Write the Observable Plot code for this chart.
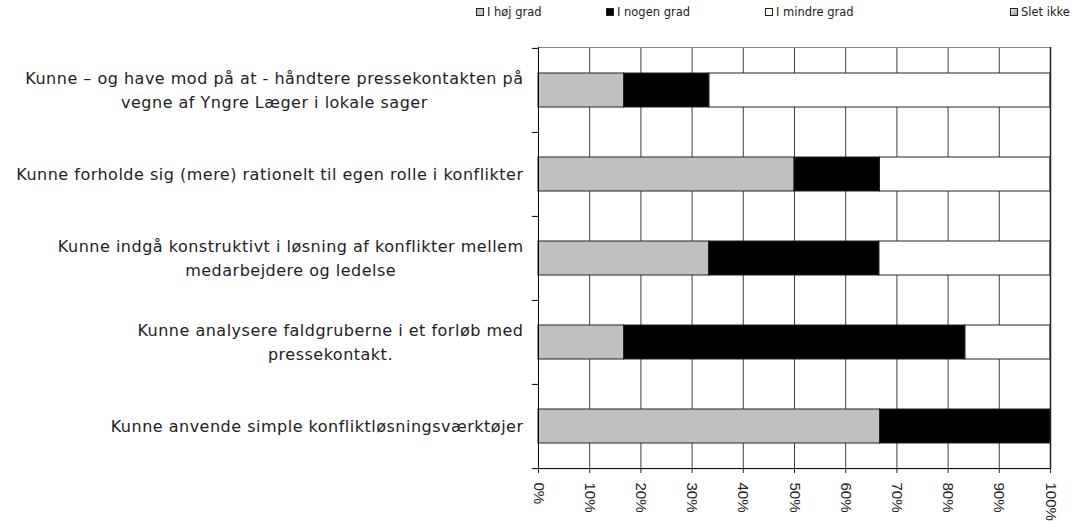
<!DOCTYPE html>
<html><head><meta charset="utf-8">
<script src="https://cdn.jsdelivr.net/npm/d3@7"></script>
<script src="https://cdn.jsdelivr.net/npm/@observablehq/plot@0.6"></script>
<style>
body{margin:0;background:#fff;}
#legend{position:relative;height:25px;width:1073px;font-family:"DejaVu Sans",sans-serif;font-size:11.5px;color:#222;}
.item{position:absolute;top:5px;display:flex;align-items:center;white-space:nowrap;line-height:14px;}
.sw{width:6px;height:6px;border:1px solid #222;margin-right:3px;}
</style></head><body>
<div id="legend"></div><div id="chart"></div>
<script>
const categories = [
  "Kunne – og have mod på at - håndtere pressekontakten på\nvegne af Yngre Læger i lokale sager",
  "Kunne forholde sig (mere) rationelt til egen rolle i konflikter",
  "Kunne indgå konstruktivt i løsning af konflikter mellem\nmedarbejdere og ledelse",
  "Kunne analysere faldgruberne i et forløb med\npressekontakt.",
  "Kunne anvende simple konfliktløsningsværktøjer"
];
const seriesNames = ["I høj grad", "I nogen grad", "I mindre grad", "Slet ikke"];
const seriesColors = ["#c0c0c0", "#000000", "#ffffff", "#d4d4d4"];
const hojGrad   = [16.7, 50.0, 33.3, 16.7, 66.7];
const nogenGrad = [16.7, 16.7, 33.3, 66.7, 33.3];
const mindreGrad= [66.6, 33.3, 33.4, 16.6, 0];
const sletIkke  = [0, 0, 0, 0, 0];
const xTicks = [0, 10, 20, 30, 40, 50, 60, 70, 80, 90, 100];
const legendLeft = [476, 606, 765, 1010];

const seriesValues = [hojGrad, nogenGrad, mindreGrad, sletIkke];
const rows = [];
seriesNames.forEach((s, si) => categories.forEach((c, ci) => {
  if (seriesValues[si][ci] > 0) rows.push({series: s, category: c, value: seriesValues[si][ci]});
}));

// legend
const leg = document.getElementById("legend");
seriesNames.forEach((s, i) => {
  const it = document.createElement("div");
  it.className = "item";
  it.style.left = legendLeft[i] + "px";
  const sw = document.createElement("span");
  sw.className = "sw";
  sw.style.background = i === 3 ? "linear-gradient(135deg,#eee,#999)" : seriesColors[i];
  it.appendChild(sw);
  it.appendChild(document.createTextNode(s));
  leg.appendChild(it);
});

const W = 1073, H = 498, mT = 22, mB = 55, mL = 538, mR = 23;
const step = (H - mT - mB) / categories.length;
const labelFont = 16, labelFamily = "DejaVu Sans", labelSpacing = 0.5;
const ctx = document.createElement("canvas").getContext("2d");
ctx.font = `${labelFont}px "${labelFamily}"`;

const labelMarks = categories.map(c => {
  const w = d3.max(c.split("\n"), l => ctx.measureText(l).width + labelSpacing * l.length);
  return Plot.text([c], {
    x: 0, y: d => d, text: d => d, textAnchor: "middle",
    dx: -(15 + w / 2), dy: -2, lineHeight: 1.5,
    fontSize: labelFont, fontFamily: labelFamily, fill: "#222",
    style: {letterSpacing: labelSpacing + "px"}
  });
});
const last = categories[categories.length - 1];

const chart = Plot.plot({
  width: W, height: H,
  marginTop: mT, marginBottom: mB, marginLeft: mL, marginRight: mR,
  style: {fontFamily: "Liberation Sans", fontSize: "15px", color: "#222", background: "#fff"},
  x: {domain: [0, 100]},
  y: {domain: categories, paddingInner: 0.6, paddingOuter: 0.3, axis: null},
  color: {domain: seriesNames, range: seriesColors},
  marks: [
    Plot.ruleX(xTicks.slice(1, -1), {stroke: "#444", strokeWidth: 1}),
    Plot.frame({stroke: "#888"}),
    Plot.barX(rows, Plot.stackX({x: "value", y: "category", fill: "series", order: seriesNames, stroke: "#222", strokeWidth: 1})),
    Plot.ruleX([100], {stroke: "#222", strokeWidth: 1.5}),
    Plot.ruleX([0], {stroke: "#000", strokeWidth: 1}),
    Plot.ruleY([last], {y: d => d, x1: 0, x2: 100, dy: step / 2, stroke: "#000"}),
    Plot.ruleY(categories, {y: d => d, x1: -1.2, x2: 0, dy: -step / 2, stroke: "#000"}),
    Plot.ruleY([last], {y: d => d, x1: -1.2, x2: 0, dy: step / 2, stroke: "#000"}),
    Plot.axisX({ticks: xTicks, tickFormat: d => d + "%", tickRotate: 90, tickSize: 5, tickPadding: 9, fontSize: 15, fontFamily: "Liberation Sans", label: null}),
    ...labelMarks
  ]
});
chart.querySelectorAll("text").forEach(t => {
  if (t.closest("g") && t.closest("g").getAttribute("font-family") === labelFamily) t.style.letterSpacing = labelSpacing + "px";
});
document.getElementById("chart").appendChild(chart);
</script>
</body></html>
